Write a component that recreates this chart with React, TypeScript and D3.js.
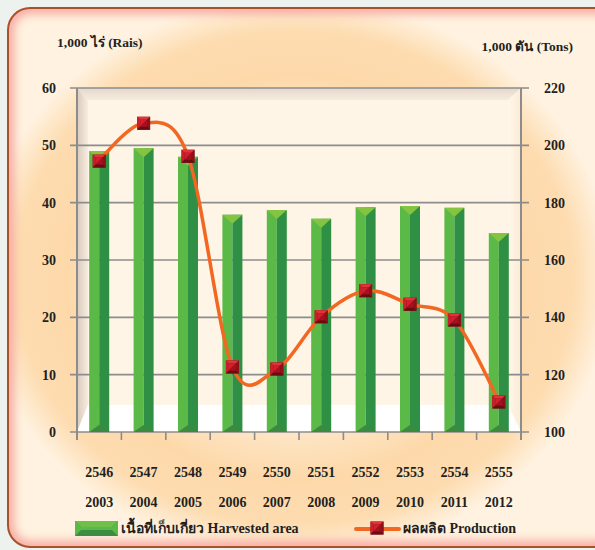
import React from "react";
import * as d3 from "d3";

const beYears = ["2546", "2547", "2548", "2549", "2550", "2551", "2552", "2553", "2554", "2555"];
const adYears = ["2003", "2004", "2005", "2006", "2007", "2008", "2009", "2010", "2011", "2012"];
const harvestedArea = [49.0, 49.5, 48.0, 37.9, 38.7, 37.2, 39.2, 39.4, 39.1, 34.7];
const production = [194.5, 207.7, 196.2, 122.7, 122.0, 140.2, 149.3, 144.6, 139.1, 110.5];
const leftTicks = [0, 10, 20, 30, 40, 50, 60];
const rightTicks = [100, 120, 140, 160, 180, 200, 220];
const leftTitle = "1,000 ไร่ (Rais)";
const rightTitle = "1,000 ตัน (Tons)";
const legendArea = "เนื้อที่เก็บเกี่ยว Harvested area";
const legendProd = "ผลผลิต Production";

const W = 595;
const H = 550;
const FONT = "'Liberation Serif', 'Times New Roman', 'Noto Sans', 'DejaVu Sans', serif";
const TXT = "#231f20";

function Marker({ cx, cy, s = 13 }: { cx: number; cy: number; s?: number }) {
  const h = s / 2;
  const x0 = cx - h, x1 = cx + h, y0 = cy - h, y1 = cy + h;
  const i = 3;
  return (
    <g>
      <rect x={x0} y={y0} width={s} height={s} fill="#7a0c14" />
      <polygon points={`${x0},${y0} ${x1},${y0} ${x1 - i},${y0 + i} ${x0 + i},${y0 + i}`} fill="#e2333b" />
      <polygon points={`${x0},${y0} ${x0 + i},${y0 + i} ${x0 + i},${y1 - i} ${x0},${y1}`} fill="#c91f2c" />
      <polygon points={`${x1},${y0} ${x1},${y1} ${x1 - i},${y1 - i} ${x1 - i},${y0 + i}`} fill="#8e1019" />
      <polygon points={`${x0},${y1} ${x1},${y1} ${x1 - i},${y1 - i} ${x0 + i},${y1 - i}`} fill="#6c0a12" />
      <polygon points={`${x0 + i},${y0 + i} ${x1 - i},${y0 + i} ${x0 + i},${y1 - i}`} fill="#d11f2d" />
      <polygon points={`${x1 - i},${y0 + i} ${x1 - i},${y1 - i} ${x0 + i},${y1 - i}`} fill="#a5121e" />
    </g>
  );
}

export default function App() {
  const left = 77, right = 521, top = 88, bottom = 432;
  const x = d3.scaleBand<string>().domain(adYears).range([left, right]).padding(0);
  const yL = d3.scaleLinear().domain([0, 60]).range([bottom, top]);
  const yR = d3.scaleLinear().domain([100, 220]).range([bottom, top]);
  const bw = 20;

  const pts: [number, number][] = production.map((v, i) => [x(adYears[i])! + x.bandwidth() / 2, yR(v)]);
  const lineGen = d3.line().curve(d3.curveCardinal.tension(0));
  const linePath = lineGen(pts) || "";

  const boundaries = d3.range(adYears.length + 1).map((i) => left + i * x.bandwidth());
  const gridColor = "#8c8c8c";

  return (
    <svg width={W} height={H} style={{ position: "absolute", left: 0, top: 0 }} fontFamily={FONT}>
      <defs>
        <radialGradient id="cardBg" cx="0.47" cy="0.5" r="0.52">
          <stop offset="0" stopColor="#fff3e2" />
          <stop offset="0.45" stopColor="#feedd6" />
          <stop offset="0.72" stopColor="#fdd9aa" />
          <stop offset="0.88" stopColor="#fddcb0" />
          <stop offset="1" stopColor="#fff2e0" />
        </radialGradient>
        <filter id="blur" x="-5%" y="-5%" width="110%" height="110%">
          <feGaussianBlur stdDeviation="5" />
        </filter>
        <clipPath id="cardClip">
          <rect x={8} y={8} width={610} height={539} rx={22} />
        </clipPath>
        <linearGradient id="topWall" x1="0" y1="0" x2="0" y2="1">
          <stop offset="0" stopColor="#e4d8cc" />
          <stop offset="1" stopColor="#f6ebdd" />
        </linearGradient>
        <linearGradient id="leftWall" x1="0" y1="0" x2="1" y2="0">
          <stop offset="0" stopColor="#d9cbbd" />
          <stop offset="1" stopColor="#f7ecdf" />
        </linearGradient>
        <linearGradient id="rightWall" x1="0" y1="0" x2="1" y2="0">
          <stop offset="0" stopColor="#fff7ea" />
          <stop offset="1" stopColor="#fdebd4" />
        </linearGradient>
      </defs>

      <rect x={0} y={0} width={W} height={H} fill="#edf2ee" />
      <g clipPath="url(#cardClip)">
        <rect x={8} y={8} width={610} height={539} fill="url(#cardBg)" />
        <rect x={8} y={8} width={610} height={539} rx={22} fill="none" stroke="#f6a9a0" strokeWidth={12} filter="url(#blur)" />
      </g>
      <rect x={8} y={8} width={610} height={539} rx={22} fill="none" stroke="#a9512b" strokeWidth={2} />

      {/* 3D plot box */}
      <rect x={left} y={top} width={right - left} height={bottom - top} fill="#fef5e6" />
      <polygon points={`${left},${top} ${right},${top} ${right - 13},${top + 12} ${left + 11},${top + 12}`} fill="url(#topWall)" />
      <polygon points={`${left},${top} ${left + 11},${top + 12} ${left + 11},${bottom - 27} ${left},${bottom}`} fill="url(#leftWall)" />
      <polygon points={`${right},${top} ${right},${bottom} ${right - 13},${bottom - 27} ${right - 13},${top + 12}`} fill="url(#rightWall)" />
      <polygon points={`${left},${bottom} ${left + 11},${bottom - 27} ${right - 13},${bottom - 27} ${right},${bottom}`} fill="#ffffff" />

      {/* gridlines */}
      {leftTicks.map((t) => (
        <line key={"g" + t} x1={70} x2={529} y1={yL(t)} y2={yL(t)} stroke={gridColor} strokeWidth={1.6} />
      ))}
      <line x1={left} x2={left} y1={top} y2={bottom + 8} stroke={gridColor} strokeWidth={2} />
      <line x1={right} x2={right} y1={top} y2={bottom + 8} stroke={gridColor} strokeWidth={2} />
      {boundaries.map((b, i) => (
        <line key={"t" + i} x1={b} x2={b} y1={bottom} y2={bottom + 8} stroke={gridColor} strokeWidth={1.6} />
      ))}

      {/* bars */}
      {harvestedArea.map((v, i) => {
        const cx = x(adYears[i])! + x.bandwidth() / 2;
        const bx = cx - bw / 2;
        const yt = yL(v);
        const yb = yL(0);
        return (
          <g key={"b" + i}>
            <rect x={bx} y={yt} width={bw / 2} height={yb - yt} fill="#5bb947" />
            <rect x={cx} y={yt} width={bw / 2} height={yb - yt} fill="#2f8f44" />
            <polygon points={`${bx},${yt} ${bx + bw},${yt} ${cx},${yt + 9}`} fill="#84c441" />
            <polygon points={`${bx},${yb} ${bx + bw},${yb} ${cx},${yb - 7}`} fill="#3a8a3f" />
          </g>
        );
      })}

      {/* production line */}
      <path d={linePath} fill="none" stroke="#f26722" strokeWidth={3.5} strokeLinecap="round" />
      {pts.map((p, i) => (
        <Marker key={"m" + i} cx={p[0]} cy={p[1]} />
      ))}

      {/* axis labels */}
      {leftTicks.map((t) => (
        <text key={"lt" + t} x={56} y={yL(t) + 5} textAnchor="end" fontSize={14} fontWeight="bold" fill={TXT}>
          {t}
        </text>
      ))}
      {rightTicks.map((t) => (
        <text key={"rt" + t} x={544} y={yR(t) + 5} textAnchor="start" fontSize={14} fontWeight="bold" fill={TXT}>
          {t}
        </text>
      ))}
      {beYears.map((t, i) => (
        <text key={"be" + i} x={x(adYears[i])! + x.bandwidth() / 2} y={477} textAnchor="middle" fontSize={14} fontWeight="bold" fill={TXT}>
          {t}
        </text>
      ))}
      {adYears.map((t, i) => (
        <text key={"ad" + i} x={x(t)! + x.bandwidth() / 2} y={507} textAnchor="middle" fontSize={14} fontWeight="bold" fill={TXT}>
          {t}
        </text>
      ))}
      <text x={57} y={47} fontSize={13.5} fontWeight="bold" fill={TXT}>{leftTitle}</text>
      <text x={573} y={51} textAnchor="end" fontSize={13.5} fontWeight="bold" fill={TXT}>{rightTitle}</text>

      {/* legend */}
      <g>
        <rect x={75} y={521} width={43} height={15} fill="#3a8d43" />
        <polygon points={`75,521 118,521 112,527 81,527`} fill="#6fc04a" />
        <polygon points={`75,521 81,527 81,530 75,536`} fill="#5bb947" />
        <polygon points={`118,521 112,527 112,530 118,536`} fill="#5bb947" />
        <rect x={81} y={527} width={31} height={3} fill="#5bb947" />
        <text x={121} y={533} fontSize={14} fontWeight="bold" fill={TXT}>{legendArea}</text>

        <line x1={356} x2={399} y1={529} y2={529} stroke="#f26722" strokeWidth={4} strokeLinecap="round" />
        <Marker cx={377} cy={528} />
        <text x={403} y={533} fontSize={14} fontWeight="bold" fill={TXT}>{legendProd}</text>
      </g>
    </svg>
  );
}
